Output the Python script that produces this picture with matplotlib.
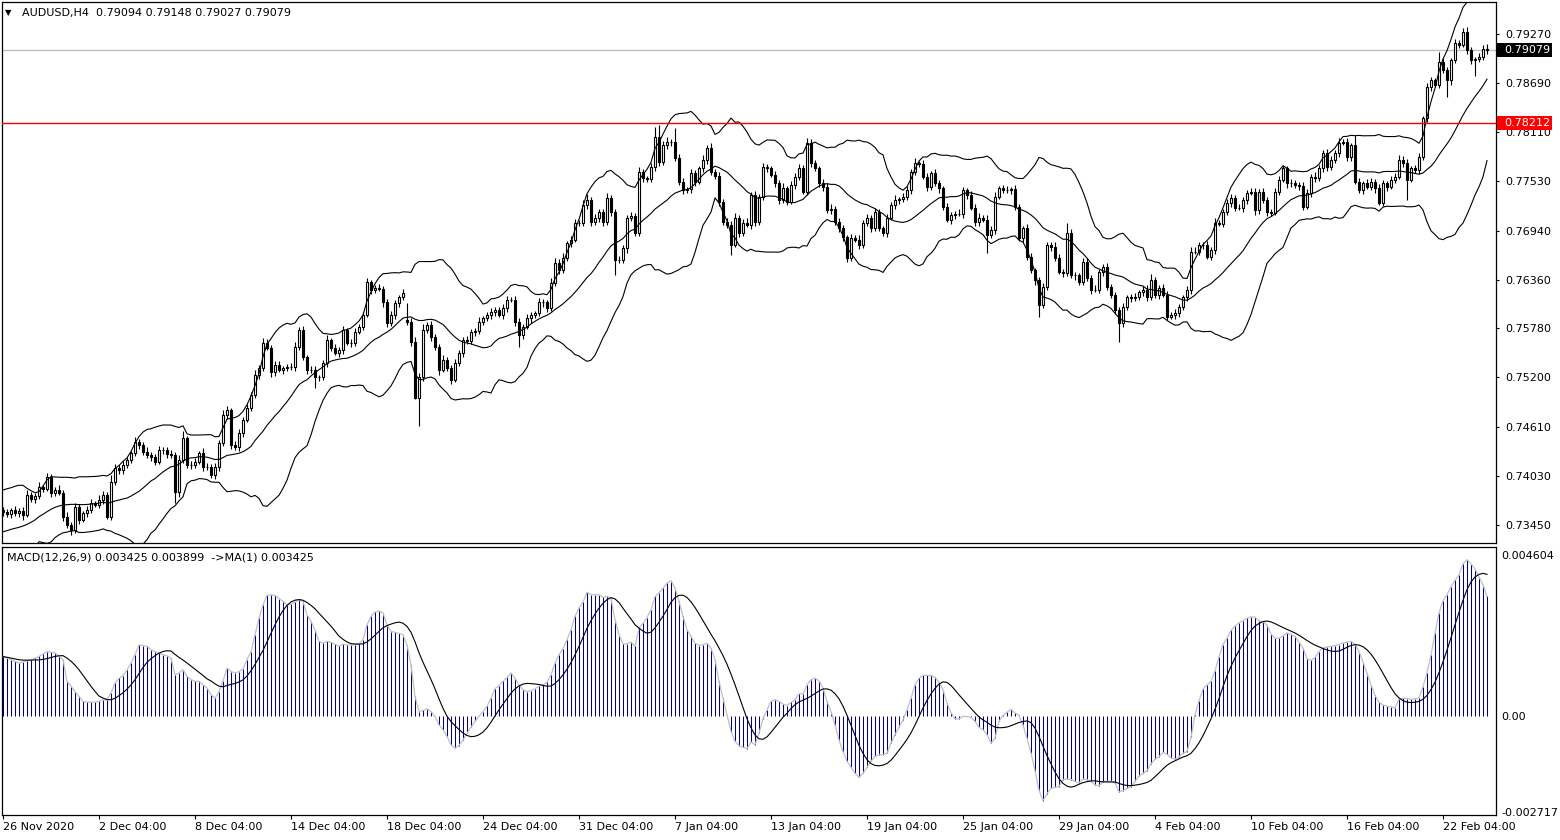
import numpy as np
import pandas as pd
import matplotlib

matplotlib.use("Agg")
import matplotlib.pyplot as plt
from matplotlib.patches import Rectangle
from matplotlib.transforms import blended_transform_factory

plt.rcParams["font.family"] = ["DejaVu Sans"]

symbol = "AUDUSD,H4"
last_ohlc = [0.79094, 0.79148, 0.79027, 0.79079]
level_price = 0.78212
macd_header = "MACD(12,26,9) 0.003425 0.003899  ->MA(1) 0.003425"

time_labels = ["26 Nov 2020", "2 Dec 04:00", "8 Dec 04:00", "14 Dec 04:00", "18 Dec 04:00",
               "24 Dec 04:00", "31 Dec 04:00", "7 Jan 04:00", "13 Jan 04:00", "19 Jan 04:00",
               "25 Jan 04:00", "29 Jan 04:00", "4 Feb 04:00", "10 Feb 04:00", "16 Feb 04:00",
               "22 Feb 04:00"]
time_label_bars = [0, 24, 48, 72, 96, 120, 144, 168, 192, 216, 240, 264, 288, 312, 336, 360]

price_ticks = [0.79270, 0.78690, 0.78110, 0.77530, 0.76940, 0.76360,
               0.75780, 0.75200, 0.74610, 0.74030, 0.73450]
macd_ticks = [0.004604, 0.0, -0.002717]
macd_tick_labels = ["0.004604", "0.00", "-0.002717"]

# H4 closes in pips (0.0001)
close_pips = [
    7360, 7358, 7363, 7359, 7362, 7357, 7381, 7376, 7379, 7390,
    7388, 7402, 7383, 7387, 7383, 7355, 7345, 7339, 7366, 7351,
    7359, 7363, 7371, 7369, 7375, 7381, 7355, 7396, 7413, 7410,
    7416, 7422, 7430, 7443, 7440, 7432, 7428, 7426, 7420, 7434,
    7434, 7429, 7428, 7384, 7422, 7448, 7416, 7416, 7420, 7430,
    7414, 7414, 7404, 7414, 7442, 7475, 7481, 7440, 7437, 7454,
    7470, 7484, 7499, 7523, 7531, 7561, 7555, 7526, 7535, 7529,
    7531, 7532, 7532, 7556, 7576, 7544, 7529, 7529, 7520, 7520,
    7537, 7564, 7555, 7549, 7552, 7576, 7561, 7561, 7574, 7580,
    7594, 7633, 7624, 7626, 7625, 7609, 7584, 7594, 7608, 7615,
    7620, 7586, 7562, 7496, 7520, 7576, 7582, 7568, 7556, 7529,
    7541, 7531, 7517, 7537, 7549, 7564, 7563, 7574, 7575, 7586,
    7590, 7594, 7597, 7600, 7594, 7602, 7612, 7612, 7586, 7570,
    7580, 7590, 7594, 7596, 7609, 7609, 7602, 7632, 7656, 7647,
    7662, 7679, 7683, 7703, 7703, 7724, 7730, 7704, 7709, 7716,
    7704, 7733, 7716, 7659, 7659, 7673, 7709, 7711, 7691, 7763,
    7756, 7755, 7769, 7805, 7775, 7795, 7799, 7799, 7780, 7752,
    7742, 7743, 7762, 7752, 7768, 7778, 7792, 7763, 7759, 7728,
    7704, 7701, 7677, 7709, 7691, 7703, 7701, 7736, 7704, 7734,
    7769, 7768, 7760, 7750, 7730, 7744, 7728, 7748, 7758, 7768,
    7740, 7798, 7774, 7768, 7750, 7746, 7718, 7720, 7704, 7697,
    7686, 7662, 7685, 7683, 7677, 7703, 7709, 7697, 7716, 7697,
    7691, 7709, 7724, 7730, 7731, 7734, 7742, 7763, 7774, 7773,
    7758, 7746, 7762, 7750, 7744, 7722, 7707, 7712, 7714, 7714,
    7742, 7736, 7721, 7704, 7709, 7707, 7689, 7695, 7734, 7744,
    7742, 7742, 7743, 7722, 7685, 7697, 7663, 7647, 7635, 7606,
    7627, 7677, 7675, 7662, 7645, 7644, 7691, 7641, 7641, 7633,
    7657, 7638, 7624, 7624, 7645, 7651, 7627, 7618, 7600, 7584,
    7603, 7615, 7614, 7615, 7621, 7624, 7615, 7635, 7618, 7626,
    7618, 7592, 7594, 7596, 7603, 7615, 7624, 7669, 7669, 7677,
    7677, 7663, 7671, 7703, 7702, 7716, 7727, 7733, 7721, 7721,
    7730, 7739, 7740, 7718, 7740, 7730, 7716, 7715, 7740, 7754,
    7768, 7750, 7750, 7748, 7747, 7722, 7739, 7758, 7756, 7768,
    7786, 7769, 7778, 7786, 7798, 7799, 7781, 7795, 7752, 7742,
    7750, 7746, 7752, 7744, 7727, 7750, 7746, 7754, 7758, 7778,
    7774, 7754, 7768, 7766, 7781, 7827, 7864, 7872, 7867, 7894,
    7884, 7872, 7896, 7916, 7914, 7929, 7908, 7896, 7897, 7900,
    7909.4, 7907.9,
]
# opens follow the previous close except where the market gapped
gap_opens = {0: 7363, 101: 7588}

upper_wick = [
    3, 4, 2, 5, 3, 4, 5, 3, 4, 6, 3, 5, 4, 3, 5, 4, 6, 3, 5, 4,
    3, 4, 5, 3, 6, 4, 3, 8, 4, 3, 5, 4, 3, 6, 4, 3, 5, 4, 3, 5,
    4, 3, 5, 4, 6, 8, 3, 5, 4, 3, 6, 4, 3, 5, 4, 6, 5, 3, 4, 5,
    3, 5, 4, 6, 4, 6, 5, 3, 4, 5, 3, 4, 5, 6, 4, 5, 3, 4, 5, 3,
    4, 6, 3, 5, 4, 5, 3, 4, 5, 3, 4, 5, 3, 4, 5, 3, 4, 5, 4, 3,
    5, 20, 4, 6, 5, 7, 4, 5, 3, 4, 6, 3, 4, 5, 3, 4, 5, 3, 4, 5,
    3, 4, 5, 3, 4, 5, 4, 3, 5, 4, 3, 5, 4, 3, 5, 4, 3, 6, 5, 4,
    5, 3, 4, 5, 3, 6, 7, 4, 5, 3, 4, 6, 3, 4, 5, 4, 3, 5, 4, 6,
    4, 3, 5, 12, 14, 5, 6, 4, 16, 5, 4, 3, 5, 4, 3, 5, 4, 6, 4, 5,
    3, 5, 4, 6, 4, 5, 6, 4, 5, 3, 5, 4, 3, 5, 4, 6, 3, 5, 4, 5,
    4, 6, 5, 4, 3, 5, 4, 6, 3, 5, 4, 3, 5, 4, 6, 3, 5, 4, 5, 4,
    3, 5, 4, 6, 3, 4, 5, 4, 6, 3, 5, 4, 3, 5, 4, 3, 5, 4, 3, 5,
    4, 3, 5, 4, 6, 3, 5, 4, 6, 3, 4, 5, 3, 5, 4, 3, 5, 4, 3, 4,
    5, 4, 3, 5, 4, 3, 12, 5, 4, 3, 5, 4, 3, 5, 4, 3, 5, 4, 3, 4,
    5, 3, 4, 5, 3, 4, 5, 8, 4, 3, 5, 4, 3, 5, 4, 3, 4, 6, 5, 4,
    3, 5, 4, 6, 3, 4, 5, 4, 3, 5, 4, 3, 5, 4, 3, 5, 4, 3, 4, 5,
    4, 3, 5, 4, 3, 5, 4, 3, 5, 4, 3, 5, 4, 3, 6, 4, 5, 3, 12, 4,
    3, 5, 4, 3, 5, 4, 3, 5, 4, 6, 4, 5, 3, 4, 5, 3, 5, 4, 3, 12,
    5, 4, 3, 5, 4, 5, 6, 4, 3, 4, 5, 5.4,
]
lower_wick = [
    4, 3, 5, 3, 4, 6, 3, 4, 5, 3, 4, 3, 5, 4, 3, 5, 4, 6, 4, 5,
    3, 5, 4, 3, 4, 5, 3, 4, 3, 5, 4, 3, 4, 3, 5, 4, 3, 5, 4, 3,
    5, 4, 3, 13, 6, 4, 3, 5, 4, 3, 5, 4, 3, 4, 5, 3, 4, 5, 3, 4,
    5, 3, 4, 3, 5, 4, 3, 5, 4, 3, 5, 4, 3, 5, 4, 3, 5, 4, 13, 4,
    3, 5, 4, 3, 5, 4, 3, 5, 4, 3, 4, 3, 5, 4, 3, 5, 4, 3, 5, 4,
    3, 4, 5, 2, 34, 4, 3, 5, 4, 6, 3, 4, 5, 3, 4, 5, 3, 4, 5, 3,
    4, 3, 5, 4, 3, 5, 4, 3, 5, 14, 4, 3, 5, 4, 3, 5, 4, 3, 4, 5,
    3, 4, 5, 3, 4, 3, 5, 4, 3, 5, 4, 3, 5, 18, 4, 3, 5, 4, 3, 4,
    5, 4, 3, 4, 5, 3, 4, 5, 3, 4, 5, 3, 4, 5, 3, 4, 5, 3, 4, 5,
    3, 4, 12, 3, 5, 4, 3, 5, 4, 3, 4, 5, 3, 4, 5, 3, 4, 3, 5, 4,
    3, 4, 5, 3, 4, 5, 3, 4, 3, 5, 4, 5, 4, 3, 5, 4, 3, 5, 4, 3,
    4, 5, 3, 4, 5, 3, 4, 5, 3, 4, 3, 5, 4, 3, 5, 4, 3, 5, 4, 3,
    5, 4, 3, 5, 4, 3, 21, 4, 5, 3, 4, 3, 5, 4, 3, 5, 4, 3, 5, 14,
    4, 3, 5, 4, 3, 5, 4, 3, 5, 4, 3, 4, 5, 3, 4, 5, 3, 4, 5, 22,
    4, 3, 5, 4, 3, 4, 5, 3, 4, 5, 3, 4, 3, 5, 4, 3, 4, 5, 3, 4,
    5, 3, 4, 5, 3, 4, 3, 5, 4, 3, 5, 4, 3, 5, 4, 3, 5, 4, 3, 4,
    3, 5, 4, 3, 5, 4, 3, 5, 4, 3, 5, 4, 3, 4, 5, 3, 4, 5, 3, 4,
    5, 3, 4, 5, 3, 4, 5, 3, 4, 3, 5, 24, 3, 4, 5, 3, 4, 5, 3, 4,
    3, 20, 5, 3, 4, 3, 5, 4, 19, 3, 4, 5.2,
]

# Bollinger(20) values for the first 19 bars (history before the window)
bb_mid_head = [7337.1, 7338.3, 7339.9, 7341.1, 7342.3, 7343.8, 7345.9, 7348.2, 7351.0, 7354.9,
               7357.7, 7360.8, 7363.6, 7366.0, 7367.5, 7368.7, 7369.1, 7369.5, 7369.5]
bb_upper_head = [7386.5, 7388.0, 7389.2, 7390.9, 7392.1, 7392.1, 7388.5, 7385.7, 7383.3, 7384.5,
                 7391.2, 7398.4, 7402.3, 7401.9, 7401.6, 7401.6, 7401.6, 7401.1, 7400.7]

# MACD main line in pips
macd_pips = [
    17.1, 16.6, 16.2, 15.7, 15.2, 15.5, 15.9, 16.2, 16.6, 17.1,
    17.8, 18.5, 18.3, 18.1, 17.1, 16.2, 10.0, 8.6, 7.1, 5.7,
    4.3, 4.1, 4.1, 4.1, 4.3, 4.7, 4.8, 6.7, 9.5, 10.9,
    11.6, 13.3, 15.2, 17.6, 20.4, 20.2, 20.0, 19.0, 18.5, 18.1,
    17.6, 17.3, 16.6, 11.9, 12.4, 13.3, 11.4, 10.5, 10.0, 10.0,
    9.0, 8.1, 6.2, 5.2, 7.1, 10.0, 13.8, 12.8, 12.4, 12.8,
    13.6, 16.2, 18.5, 23.3, 28.0, 31.8, 34.5, 34.7, 34.5, 33.6,
    32.8, 31.8, 32.0, 32.6, 33.3, 32.8, 29.0, 27.1, 24.7, 21.4,
    20.9, 21.4, 21.1, 20.6, 20.0, 20.6, 20.4, 20.4, 20.4, 20.7,
    21.9, 26.1, 28.5, 29.8, 30.1, 29.5, 26.1, 24.2, 24.0, 23.7,
    23.3, 20.4, 14.7, 5.7, 1.4, 1.7, 2.2, 1.4, 0.0, -2.4,
    -3.8, -5.7, -8.1, -9.0, -8.3, -6.7, -4.8, -3.1, -1.4, 0.0,
    1.4, 2.9, 5.2, 7.9, 8.8, 10.0, 11.1, 12.4, 10.9, 9.0,
    7.6, 7.1, 7.3, 7.9, 8.6, 9.0, 9.8, 11.9, 15.2, 17.6,
    19.3, 21.9, 24.7, 28.5, 30.9, 32.6, 35.4, 34.7, 34.7, 34.7,
    34.0, 34.2, 33.6, 27.6, 23.3, 20.7, 20.7, 21.2, 20.0, 25.2,
    26.6, 28.2, 30.4, 34.2, 35.2, 36.6, 38.0, 38.7, 36.6, 32.8,
    28.5, 24.7, 22.8, 20.9, 20.2, 20.4, 20.9, 19.5, 16.2, 10.0,
    5.2, 0.5, -4.3, -7.1, -8.3, -8.8, -9.2, -7.3, -8.1, -4.8,
    -0.7, 1.9, 4.3, 4.8, 4.3, 3.5, 3.1, 4.0, 4.8, 6.5,
    6.4, 9.0, 10.5, 10.9, 10.2, 8.1, 4.3, 1.4, -2.4, -6.7,
    -10.0, -12.8, -14.5, -16.2, -17.4, -16.2, -14.5, -12.8, -11.4, -10.9,
    -10.9, -10.5, -7.6, -5.2, -3.1, -1.0, 1.9, 5.2, 9.0, 10.9,
    11.7, 11.7, 11.7, 11.1, 9.8, 7.6, 3.8, 1.1, -0.7, -0.7,
    0.0, 0.0, -0.3, -1.4, -3.1, -3.8, -5.2, -7.6, -6.2, -1.4,
    0.3, 1.2, 2.0, 1.0, 0.3, -2.5, -6.2, -10.5, -15.5, -21.0,
    -24.0, -22.0, -20.5, -20.2, -20.0, -18.0, -17.8, -18.0, -18.5, -19.0,
    -17.8, -18.0, -18.5, -19.5, -19.8, -18.6, -18.5, -18.5, -19.0, -21.5,
    -21.2, -20.5, -20.0, -18.5, -17.0, -16.2, -15.5, -13.5, -12.2, -11.5,
    -10.2, -10.8, -11.8, -12.2, -11.5, -10.5, -10.0, -6.0, 0.5, 4.5,
    7.8, 9.0, 10.0, 13.0, 17.0, 20.5, 22.3, 24.5, 25.8, 26.7,
    27.3, 28.0, 28.4, 28.3, 27.3, 27.0, 26.0, 23.5, 22.3, 22.3,
    23.0, 23.8, 23.4, 22.8, 21.2, 19.5, 16.5, 16.0, 16.8, 18.5,
    19.5, 19.8, 20.0, 20.2, 20.5, 20.9, 21.2, 21.4, 20.6, 18.5,
    15.5, 12.3, 9.0, 6.0, 4.0, 3.3, 2.9, 2.7, 2.4, 5.0,
    5.2, 5.1, 4.9, 5.0, 5.3, 8.5, 12.5, 17.6, 23.8, 29.5,
    33.0, 34.7, 37.0, 38.8, 40.4, 43.5, 44.7, 43.5, 42.0, 39.8,
    37.5, 34.25,
]

n = len(close_pips)
assert len(upper_wick) == n and len(lower_wick) == n and len(macd_pips) == n

PIP = 1e-4
close = np.array(close_pips, dtype=float) * PIP
opens = np.r_[np.nan, close[:-1]]
for i, v in gap_opens.items():
    opens[i] = v * PIP
high = np.maximum(opens, close) + np.array(upper_wick) * PIP
low = np.minimum(opens, close) - np.array(lower_wick) * PIP

s = pd.Series(close)
bb_mid = s.rolling(20).mean().to_numpy()
bb_sd = s.rolling(20).std(ddof=0).to_numpy()
bb_up = bb_mid + 2 * bb_sd
bb_lo = bb_mid - 2 * bb_sd
h = len(bb_mid_head)
bb_mid[:h] = np.array(bb_mid_head) * PIP
bb_up[:h] = np.array(bb_upper_head) * PIP
bb_lo[:h] = 2 * bb_mid[:h] - bb_up[:h]

macd = np.array(macd_pips) * PIP
signal = pd.Series(macd).rolling(9, min_periods=1).mean().to_numpy()

x = np.arange(n)

# ---- figure layout (pixel-matched to the terminal screenshot) ----
W, H = 1560, 840
fig = plt.figure(figsize=(W / 100, H / 100), dpi=100)
fig.patch.set_facecolor("white")
ax = fig.add_axes([2 / W, 1 - 543 / H, 1494 / W, 541 / H])
ax2 = fig.add_axes([2 / W, 1 - 815 / H, 1494 / W, 268 / H])

for a in (ax, ax2):
    a.set_xlim(-0.25, 373.25)
    for sp in a.spines.values():
        sp.set_linewidth(0.9)
        sp.set_color("black")
    a.yaxis.tick_right()

ax.set_ylim(0.732370, 0.796490)
ax2.set_ylim(-0.00281, 0.00483)

# candles
up = close >= opens
body_lo = np.minimum(opens, close)
body_h = np.abs(close - opens)
ax.vlines(x, low, high, color="black", lw=0.8, zorder=2)
ax.bar(x[up], body_h[up], bottom=body_lo[up], width=0.55, color="white",
       edgecolor="black", linewidth=0.8, zorder=3)
ax.bar(x[~up], body_h[~up], bottom=body_lo[~up], width=0.55, color="black",
       edgecolor="black", linewidth=0.8, zorder=3)

# bollinger bands
for band in (bb_up, bb_mid, bb_lo):
    ax.plot(x, band, color="black", lw=0.8, zorder=4)

# horizontal level + bid line
ax.axhline(level_price, color="#FF0000", lw=1.0, zorder=5)
ax.axhline(last_ohlc[3], color="#C0C0C0", lw=1.0, zorder=1)

ax.set_xticks([])
ax.set_yticks(price_ticks)
ax.set_yticklabels([f"{v:.5f}" for v in price_ticks])
ax.tick_params(axis="y", length=2.5, width=0.8, pad=4, labelsize=8, colors="black")

# price labels on the scale
tr = blended_transform_factory(ax.transAxes, ax.transData)
px = 0.00011853
for value, face in ((level_price, "#FF0000"), (last_ohlc[3], "black")):
    ax.add_patch(Rectangle((1.0007, value - 7 * px), 55 / 1494, 14 * px, transform=tr,
                           facecolor=face, edgecolor="none", clip_on=False, zorder=10))
    ax.text(1.0054, value, f"{value:.5f}", transform=tr, ha="left", va="center",
            fontsize=8, color="white", zorder=11, clip_on=False)

# MACD panel
ax2.vlines(x, 0, macd, color="#000080", lw=0.75, zorder=2)
ax2.plot(x, macd, color="#C0C0C0", lw=0.9, zorder=3)
ax2.plot(x, signal, color="black", lw=0.8, zorder=4)
ax2.set_yticks(macd_ticks)
ax2.set_yticklabels(macd_tick_labels)
ax2.tick_params(axis="y", length=0, pad=4, labelsize=8, colors="black")
ax2.set_xticks(time_label_bars)
ax2.set_xticklabels(time_labels, ha="left")
ax2.tick_params(axis="x", length=3, width=0.8, pad=2, labelsize=8, colors="black")

# headers
fig.text(5 / W, 1 - 13 / H, "\u25BC", fontsize=6, va="center", ha="left")
fig.text(22 / W, 1 - 13 / H,
         f"{symbol}  " + " ".join(f"{v:.5f}" for v in last_ohlc),
         fontsize=8, va="center", ha="left")
fig.text(7 / W, 1 - 557 / H, macd_header, fontsize=8, va="center", ha="left")

fig.savefig("out.png", dpi=100)
